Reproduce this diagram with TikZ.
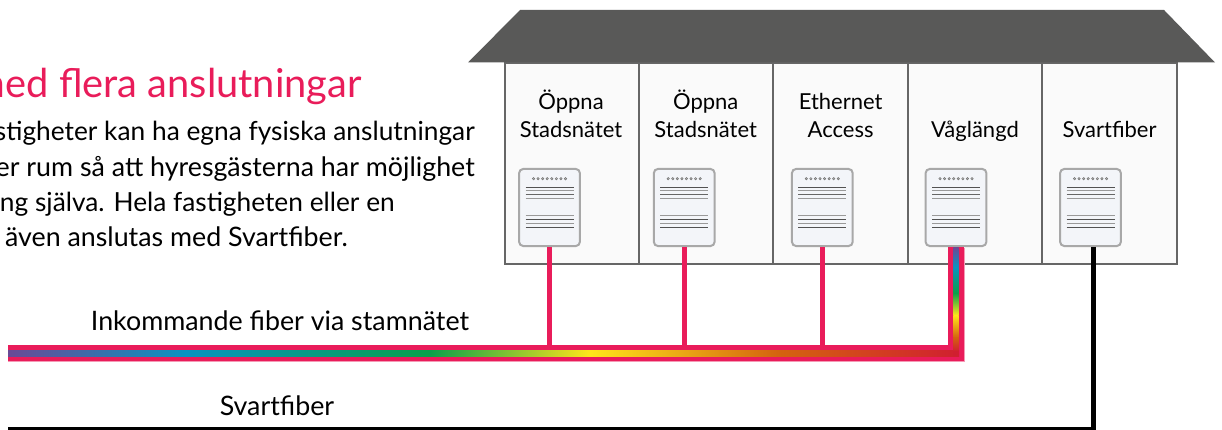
\documentclass[tikz,border=0pt]{standalone}
\usepackage{fontspec}
\setmainfont{Lato}
\usetikzlibrary{calc}
\definecolor{pinkfiber}{HTML}{E91C5A}
\definecolor{roofgray}{HTML}{595958}
\definecolor{wallgray}{HTML}{666666}
\definecolor{devgray}{HTML}{A8A8A8}
\definecolor{devfill}{HTML}{F3F5F9}
\definecolor{cPurple}{HTML}{6A4A96}
\definecolor{cBlue}{HTML}{0A93C0}
\definecolor{cGreen}{HTML}{0AA04A}
\definecolor{cYellow}{HTML}{FFE61A}
\definecolor{cOrange}{HTML}{D4640F}
\definecolor{cRed}{HTML}{D01F30}
\newcommand{\fs}[1]{\fontsize{#1}{#1}\selectfont}
\tikzset{
  cellbox/.style={draw=wallgray,line width=2pt,fill=white!98!black,minimum width=134.6pt,minimum height=201pt,inner sep=0pt,outer sep=0pt,anchor=north west},
  celltext/.style={anchor=base,font=\fs{22},inner sep=0pt,text=black},
  bodytext/.style={anchor=base east,font=\fs{26.8},inner sep=0pt,text=black},
  bodytextb/.style={bodytext,font=\fs{26.3}},
  device/.style={draw=devgray,line width=2pt,fill=devfill,rounded corners=4pt,minimum width=60.7pt,minimum height=77pt,inner sep=0pt,outer sep=0pt,anchor=north},
  pinkline/.style={draw=pinkfiber,line width=5pt},
  blackline/.style={draw=black,line width=5pt},
}
\newcommand{\devmarks}[1]{%
  \foreach \i in {0,...,7}{\draw[black!55,line width=.5pt,fill=black!25] ($(#1.north)+(-16+\i*4.57,9.7)$) circle (1.2pt);}
  \foreach \dy/\c/\w in {18.3/black!68/1,21.7/black!40/1.4,25.7/black!60/1,29.7/black!40/1.4,46.7/black!40/1.4,50.3/black!68/1,54.3/black!40/1.4,58.3/black!68/1}{
    \draw[\c,line width=\w pt] ($(#1.north)+(-24,\dy)$) -- ($(#1.north)+(24,\dy)$);}
}
\begin{document}
\begin{tikzpicture}[x=1pt,y=-1pt]
\useasboundingbox (0,0) rectangle (1222,430);
\clip (0,0) rectangle (1222,430);
\fill[white] (0,0) rectangle (1222,430);

% title and body text
\node[anchor=base east,font=\fs{39.8},inner sep=0pt,text=pinkfiber] (title) at (362,98) {med flera anslutningar};
\node[bodytextb] (b1) at (475,141) {stigheter kan ha egna fysiska anslutningar};
\node[bodytext] (b2) at (475,176.7) {er rum så att hyresgästerna har möjlighet};
\node[bodytextb] (b3) at (395,211.7) {ng själva. Hela fastigheten eller en};
\node[bodytext] (b4) at (348,247) {även anslutas med Svartfiber.};

% building
\foreach \n/\x in {1/504.5,2/638.9,3/773.3,4/907.7,5/1042.1}{
  \node[cellbox] (cell\n) at (\x,63) {};
}
\fill[roofgray] (520,10) -- (1164,10) -- (1215,62.5) -- (468,62.5) -- cycle;

% cell labels
\node[celltext] (l1a) at (571,110) {Öppna};
\node[celltext] (l1b) at (571,138) {Stadsnätet};
\node[celltext] (l2a) at (705.7,110) {Öppna};
\node[celltext] (l2b) at (705.7,138) {Stadsnätet};
\node[celltext] (l3a) at (840.6,110) {Ethernet};
\node[celltext] (l3b) at (840.6,138) {Access};
\node[celltext] (l4) at (975,138) {Våglängd};
\node[celltext] (l5) at (1109.6,138) {Svartfiber};

% devices
\foreach \n/\x in {1/549.5,2/684.2,3/822.3,4/956,5/1090.5}{
  \node[device] (dev\n) at (\x,169) {};
  \devmarks{dev\n}
}

% coordinates of the trunk
\coordinate (trunkL) at (8,353.3);
\coordinate (trunkC) at (956,353.3);
\coordinate (blackL) at (8,429.5);
\coordinate (blackC) at (1093,429.5);

% pink branches
\draw[pinkline] ($(dev1.south)+(0,1)$) -- ($(dev1.south |- trunkC)$);
\draw[pinkline] ($(dev2.south)+(0,1)$) -- (dev2.south |- trunkC);
\draw[pinkline] ($(dev3.south)+(0,1)$) -- (dev3.south |- trunkC);

% trunk pink band
\draw[draw=pinkfiber!45!white,line width=17pt] (trunkL) -- (trunkC) -- ($(dev4.south)+(0,2)$);
\draw[pinkfiber,line width=16pt] (trunkL) -- (trunkC) -- ($(dev4.south)+(0,1)$);
\draw[pinkfiber!70!white,line width=.6pt] (500,350.4) -- (953,350.4) -- (953,346);

% rainbow core, horizontal
\foreach \xa/\xb/\ca/\cb in {8/185/cPurple/cBlue,185/430/cBlue/cGreen,430/590/cGreen/cYellow,590/777/cYellow/cOrange,777/958.7/cOrange/cRed}{
  \shade[left color=\ca,right color=\cb] (\xa,350.7) rectangle (\xb+.3,356);
}
% rainbow core, vertical
\foreach \ya/\yb/\ca/\cb in {247.5/267/cPurple/cBlue,267/293/cBlue/cGreen,293/315/cGreen/cYellow,315/337/cYellow/cOrange,337/351/cOrange/cRed}{
  \shade[top color=\ca,bottom color=\cb] (953.3,\ya) rectangle (958.7,\yb+.3);
}
\fill[cRed] (953.3,351) rectangle (958.7,356);

% black fibre
\draw[blackline,line join=miter] (blackL) -- (blackC) -- ($(dev5.south -| blackC)+(0,1)$);

% line labels
\node[anchor=base,font=\fs{26.8},inner sep=0pt,text=black] (trunklabel) at (280,330) {Inkommande fiber via stamnätet};
\node[anchor=base,font=\fs{26.8},inner sep=0pt,text=black] (blacklabel) at (277,415.7) {Svartfiber};
\end{tikzpicture}
\end{document}
